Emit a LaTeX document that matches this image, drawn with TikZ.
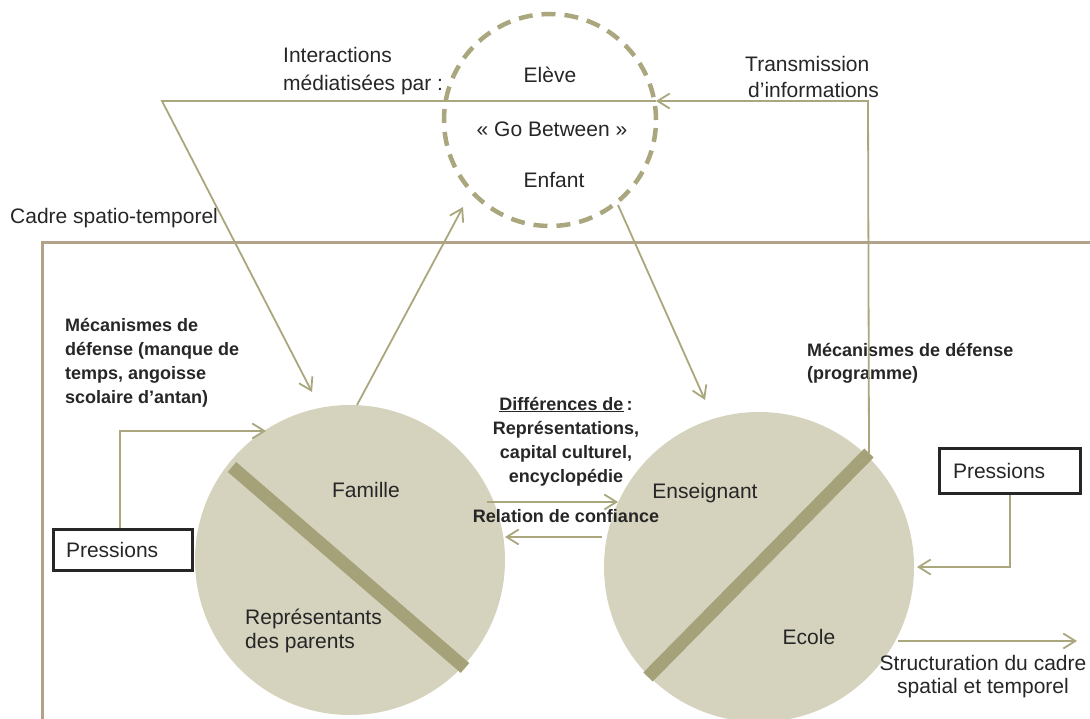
\documentclass[tikz,border=0pt]{standalone}
\usepackage{fontspec}
\setmainfont{Liberation Sans}
\usetikzlibrary{arrows.meta}
\definecolor{discfill}{RGB}{213,210,190}
\definecolor{barcol}{RGB}{165,162,121}
\definecolor{linecol}{RGB}{170,166,125}
\definecolor{framecol}{RGB}{178,162,138}
\definecolor{ink}{RGB}{38,38,38}
\begin{document}
\begin{tikzpicture}[x=1pt,y=-1pt,
  conn/.style={draw=linecol, line width=1.8pt},
  arrowto/.style={-{Straight Barb[length=12pt,width=15pt,line width=1.8pt]}},
  lbl/.style={text=ink, font=\fontsize{21}{27}\selectfont, inner sep=0pt},
  blbl/.style={text=ink, font=\fontsize{18}{24}\selectfont\bfseries, inner sep=0pt},
  disc/.style={circle, fill=discfill, minimum size=310pt, inner sep=0pt},
  bar/.style={draw=barcol, line width=13pt},
  pbox/.style={draw=black!85, line width=3pt, text=ink, font=\fontsize{21}{25}\selectfont,
    align=left, inner ysep=0pt},
]
\useasboundingbox (0,0) rectangle (1090,719);

% the two discs and their dividing bars
\node[disc] (famille) at (350,560) {};
\node[disc] (ensdisc) at (759,567) {};
\coordinate (famBarA) at (232,467);
\coordinate (famBarB) at (465,668);
\coordinate (ensBarA) at (869,453);
\coordinate (ensBarB) at (648,677);
\draw[bar] (famBarA) -- (famBarB);
\draw[bar] (ensBarA) -- (ensBarB);

% frame of the spatio-temporal setting
\coordinate (frameR) at (1090,243);
\coordinate (frameC) at (42,243);
\coordinate (frameB) at (42,719);
\draw[draw=framecol, line width=3pt] (frameR) -- (frameC) -- (frameB);
\node[lbl, anchor=base west] (cadre) at (10,224) {Cadre spatio-temporel};

% go-between circle
\node[circle, draw=linecol, line width=4.5pt, dash pattern=on 14pt off 9pt,
      minimum size=212pt, inner sep=0pt] (gobetween) at (550,120) {};
\node[lbl, anchor=base] (eleve) at (550,83) {Elève};
\node[lbl, anchor=base] (gobtxt) at (552,137) {« Go Between »};
\node[lbl, anchor=base] (enfant) at (554,188) {Enfant};

% multi-line labels are placed by the baseline of their last line
\node[lbl, anchor=base west, align=left] (interact) at (283,91)
  {Interactions\\[1pt]médiatisées par :};
\node[lbl, anchor=base west, align=left] (transm) at (745,98)
  {Transmission\\[-1pt]\hspace*{3pt}d’informations};

% texts on the discs
\node[lbl, anchor=base] (famtxt) at (366,497) {Famille};
\node[lbl, anchor=base west, align=left] (reptxt) at (245,648)
  {Représentants\\[-3pt]des parents};
\node[lbl, anchor=base] (enstxt) at (705,498) {Enseignant};
\node[lbl, anchor=base] (ecole) at (809,644) {Ecole};

% bold annotations
\node[blbl, anchor=base west, align=left] (mecaF) at (65,403)
  {Mécanismes de\\défense (manque de\\temps, angoisse\\scolaire d’antan)};
\node[blbl, anchor=base west, align=left] (mecaE) at (807,380)
  {Mécanismes de défense\\(programme)};
\node[blbl, anchor=base, align=center] (diff) at (566,482)
  {\underline{Différences de}\,:\\Représentations,\\capital culturel,\\encyclopédie};
\node[blbl, anchor=base] (relation) at (566,522) {Relation de confiance};

% pressure boxes
\node[pbox, minimum width=139pt, minimum height=41pt, text width=114pt, inner xsep=12.5pt]
  (pressF) at (123,550) {Pressions};
\node[pbox, minimum width=141pt, minimum height=45pt, text width=114pt, inner xsep=13.5pt]
  (pressE) at (1010,471) {Pressions};

% structuring output
\node[lbl, anchor=base, align=center] (struct) at (983,693)
  {Structuration du cadre\\[-4pt]spatial et temporel};

% connectors
\coordinate (trCorner) at (868,101);
\coordinate (trTip) at (656,101);
\coordinate (inLeft) at (162,101);
\coordinate (inTip) at (312,392);
\draw[conn, arrowto] (ensBarA) -- (trCorner) -- (trTip);
\draw[conn, arrowto] (trTip) -- (inLeft) -- (inTip);

\coordinate (famTop) at (357,405);
\coordinate (upTip) at (463,207);
\draw[conn, arrowto] (famTop) -- (upTip);

\coordinate (enfOut) at (618,205);
\coordinate (enfTip) at (705,400);
\draw[conn, arrowto] (enfOut) -- (enfTip);

\coordinate (pfTip) at (266,431);
\draw[conn, arrowto] (pressF.north -| 120,0) |- (pfTip);
\coordinate (peTip) at (917,567);
\draw[conn, arrowto] (pressE.south) |- (peTip);

\coordinate (relA) at (487,502);
\coordinate (relB) at (618,502);
\coordinate (relC) at (602,537);
\coordinate (relD) at (505,537);
\draw[conn, arrowto] (relA) -- (relB);
\draw[conn, arrowto] (relC) -- (relD);

\coordinate (stA) at (898,641);
\coordinate (stB) at (1077,641);
\draw[conn, arrowto] (stA) -- (stB);
\end{tikzpicture}
\end{document}
